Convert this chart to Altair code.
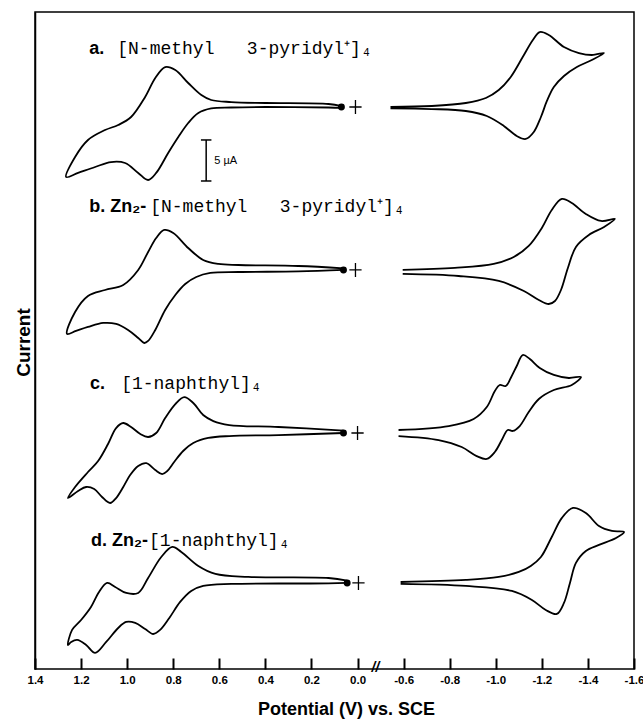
import altair as alt
import pandas as pd

# ---------------- data ----------------
traces = ["a", "b", "c", "d"]
# vertical offset (µA on the display scale) of each voltammogram's zero-current line
offset_uA = [69.04, 49.02, 28.99, 10.57]

# broken potential axis: the part from -0.6 V on is drawn 0.4 V to the left
BREAK_SHIFT = 0.4

# --- trace a : oxidation side (V, µA) ---
a_ox_V = [0.07, 0.126, 0.40, 0.548, 0.635, 0.691, 0.735, 0.778, 0.822, 0.874, 0.909, 0.952, 1.009, 1.070,
          1.139, 1.213, 1.265, 1.226, 1.170, 1.096, 1.039, 0.983, 0.922, 0.878, 0.835, 0.791, 0.735, 0.678,
          0.635, 0.548, 0.40, 0.126, 0.07]
a_ox_I = [-0.1, -0.06, 0.0, -0.06, -0.18, -0.74, -1.97, -3.69, -5.65, -8.1, -8.97, -8.1, -6.88, -6.76,
          -7.37, -8.1, -8.6, -6.14, -4.05, -2.83, -2.21, -1.23, 1.23, 3.56, 4.91, 4.55, 2.95, 1.47,
          0.86, 0.61, 0.49, 0.37, 0.1]
# --- trace a : reduction side ---
a_red_V = [-0.543, -0.722, -0.870, -0.957, -1.013, -1.065, -1.117, -1.161, -1.191, -1.230, -1.296, -1.361,
           -1.417, -1.470, -1.417, -1.352, -1.296, -1.252, -1.222, -1.196, -1.165, -1.130, -1.091, -1.035,
           -0.961, -0.870, -0.722, -0.543]
a_red_I = [0.0, 0.12, 0.49, 1.11, 2.09, 3.69, 6.14, 8.23, 9.21, 8.85, 7.37, 6.63, 6.39, 6.63, 5.77, 4.91,
           3.81, 2.46, 0.74, -1.23, -3.07, -3.93, -3.56, -2.33, -1.11, -0.49, -0.25, -0.18]

# --- trace b ---
b_ox_V = [0.061, 0.257, 0.517, 0.639, 0.70, 0.748, 0.791, 0.835, 0.878, 0.909, 0.926, 0.952, 0.996, 1.048,
          1.104, 1.170, 1.222, 1.261, 1.226, 1.170, 1.096, 1.017, 0.952, 0.909, 0.874, 0.839, 0.80, 0.735,
          0.670, 0.604, 0.517, 0.257, 0.061]
b_ox_I = [0.0, -0.18, -0.25, -0.37, -0.86, -1.72, -3.07, -4.91, -7.37, -8.72, -8.97, -8.35, -7.37, -6.63,
          -6.51, -7.0, -7.49, -7.86, -5.16, -3.19, -2.46, -1.84, 0.0, 2.21, 3.93, 4.91, 4.55, 2.70,
          1.23, 0.74, 0.61, 0.49, 0.2]
b_red_V = [-0.596, -0.822, -0.991, -1.078, -1.143, -1.2, -1.243, -1.287, -1.330, -1.391, -1.457, -1.517,
           -1.470, -1.404, -1.348, -1.313, -1.283, -1.257, -1.230, -1.187, -1.122, -1.013, -0.839, -0.596]
b_red_I = [0.0, 0.25, 0.74, 1.6, 2.95, 5.16, 7.37, 8.72, 8.23, 6.88, 6.02, 6.27,
           5.28, 4.30, 2.83, 0.25, -2.46, -3.81, -4.18, -3.69, -2.58, -1.35, -0.74, -0.49]

# --- trace c ---
c_ox_V = [0.061, 0.343, 0.557, 0.648, 0.713, 0.757, 0.796, 0.826, 0.848, 0.878, 0.917, 0.952, 0.987, 1.017,
          1.048, 1.074, 1.109, 1.143, 1.178, 1.213, 1.257, 1.226, 1.170, 1.126, 1.083, 1.048, 1.017, 0.983,
          0.943, 0.909, 0.874, 0.835, 0.791, 0.752, 0.713, 0.670, 0.626, 0.557, 0.343, 0.061]
c_ox_I = [0.0, -0.25, -0.37, -0.61, -1.23, -2.21, -3.56, -4.67, -5.04, -4.55, -3.7, -4.05, -5.16, -6.63,
          -7.99, -8.6, -7.86, -6.88, -6.63, -7.13, -7.99, -6.63, -4.79, -3.44, -1.35, 0.61, 1.23, 0.74,
          -0.12, -0.49, 0.0, 1.84, 3.56, 4.42, 3.69, 2.21, 1.47, 0.98, 0.74, 0.3]
c_red_V = [-0.578, -0.796, -0.904, -0.961, -0.996, -1.017, -1.043, -1.065, -1.091, -1.117, -1.148, -1.191,
           -1.252, -1.317, -1.370, -1.330, -1.252, -1.187, -1.143, -1.104, -1.074, -1.052, -1.026, -0.996,
           -0.961, -0.917, -0.852, -0.752, -0.578]
c_red_I = [0.37, 0.86, 1.72, 3.19, 5.16, 5.9, 5.77, 6.76, 8.23, 9.58, 9.09, 7.99, 7.13, 6.76, 6.88,
           5.9, 5.28, 4.18, 2.58, 0.86, 0.25, 0.37, -0.86, -2.33, -3.19, -2.83, -1.72, -0.86, -0.37]

# --- trace d ---
d_ox_V = [0.045, 0.126, 0.548, 0.670, 0.722, 0.770, 0.817, 0.857, 0.887, 0.922, 0.965, 1.004, 1.039, 1.091,
          1.139, 1.178, 1.217, 1.243, 1.257, 1.239, 1.2, 1.157, 1.122, 1.087, 1.052, 1.004, 0.952, 0.909,
          0.852, 0.804, 0.765, 0.691, 0.617, 0.474, 0.126, 0.045]
d_ox_I = [0.0, -0.06, -0.12, -0.37, -0.98, -2.33, -4.3, -5.77, -6.27, -5.65, -4.91, -4.79, -5.53, -7.25,
          -8.6, -7.62, -7.0, -7.25, -7.62, -5.77, -4.55, -2.95, -1.11, 0.0, -0.49, -1.23, -1.23, 0.61,
          3.19, 4.42, 3.81, 2.09, 1.11, 0.74, 0.61, 0.3]
d_red_V = [-0.587, -0.870, -1.013, -1.1, -1.152, -1.196, -1.243, -1.287, -1.335, -1.391, -1.448, -1.504,
           -1.557, -1.522, -1.448, -1.391, -1.348, -1.322, -1.296, -1.265, -1.217, -1.157, -1.070, -0.870,
           -0.587]
d_red_I = [0.12, 0.37, 0.74, 1.35, 2.09, 3.19, 5.65, 7.99, 9.21, 8.6, 7.0, 6.39, 6.27,
           5.53, 4.67, 3.93, 2.46, 0.0, -2.46, -3.81, -3.32, -2.09, -0.98, -0.37, -0.12]

# start point (filled dot) and "+" marker potentials (V)
dot_V = [0.07, 0.061, 0.061, 0.045]
cross_V = [0.009, 0.009, 0.0, -0.004]

# trace labels
label_prefix = ["a.", "b. Zn\u2082-", "c.", "d. Zn\u2082-"]
label_formula = ["[N-methyl\u00a0\u00a0\u00a03-pyridyl\u207a]\u2084",
                 "[N-methyl\u00a0\u00a0\u00a03-pyridyl\u207a]\u2084",
                 "[1-naphthyl]\u2084",
                 "[1-naphthyl]\u2084"]
label_prefix_V = [1.165, 1.165, 1.161, 1.157]
label_formula_V = [1.043, 0.90, 1.026, 0.905]
label_y = [75.55, 56.14, 34.40, 15.11]

# 5 µA scale bar
bar_V = 0.657
bar_y = [59.95, 64.99]
bar_text = "5 \u00b5A"
bar_text_V = 0.622
bar_text_y = 62.4

# axis tick labels (V)
tick_V_left = [1.4, 1.2, 1.0, 0.8, 0.6, 0.4, 0.2, 0.0]
tick_V_right = [-0.6, -0.8, -1.0, -1.2, -1.4, -1.6]
break_V = -0.078  # position of the "//" break mark (display axis units)

# ---------------- build tables ----------------
series = {
    "a": [(a_ox_V, a_ox_I, "ox"), (a_red_V, a_red_I, "red")],
    "b": [(b_ox_V, b_ox_I, "ox"), (b_red_V, b_red_I, "red")],
    "c": [(c_ox_V, c_ox_I, "ox"), (c_red_V, c_red_I, "red")],
    "d": [(d_ox_V, d_ox_I, "ox"), (d_red_V, d_red_I, "red")],
}
W, H = 599, 657
Y_TOP = 80.71
TICK_PX = 11

rows = []
for t, off in zip(traces, offset_uA):
    for V, I, side in series[t]:
        shift = 0.0 if side == "ox" else BREAK_SHIFT
        for i, (v, c) in enumerate(zip(V, I)):
            rows.append({"seg": f"{t}-{side}", "i": i, "p": v + shift, "y": off + c})
curves = pd.DataFrame(rows)

tick_p = tick_V_left + [round(v + BREAK_SHIFT, 3) for v in tick_V_right]

dots = pd.DataFrame({"p": dot_V, "y": offset_uA})
crosses = pd.DataFrame({"p": cross_V, "y": offset_uA})
labels = pd.DataFrame({"prefix": label_prefix, "formula": label_formula,
                       "pp": label_prefix_V, "pf": label_formula_V, "y": label_y})
bar = pd.DataFrame({"p": [bar_V], "y": [bar_y[0]], "y2": [bar_y[1]]})
bar_caps = pd.DataFrame({"p": [bar_V, bar_V], "y": bar_y})
bar_lbl = pd.DataFrame({"p": [bar_text_V], "y": [bar_text_y], "t": [bar_text]})
brk = pd.DataFrame({"p": [break_V], "t": ["//"]})

# ---------------- encodings ----------------
xscale = alt.Scale(domain=[-1.2, 1.4], reverse=True, nice=False, zero=False)
yscale = alt.Scale(domain=[0, Y_TOP], nice=False, zero=False)

# The axis is lifted 11 px into the plot so that its ticks point up from the bottom frame (inward ticks);
# the frame's bottom edge is the axis line.
xaxis = alt.Axis(
    values=tick_p,
    labelExpr="datum.value > -0.1 ? format(datum.value, '.1f') : '-' + format(" + str(BREAK_SHIFT) + " - datum.value, '.1f')",
    offset=-TICK_PX, ticks=True, tickSize=TICK_PX, tickWidth=2, tickColor="black", tickOpacity=1,
    grid=False, domain=False,
    labelFont="Liberation Sans", labelFontSize=11.5, labelFontWeight="bold", labelColor="black",
    labelPadding=5, labelFlush=False, labelOverlap=False,
    title="Potential (V) vs. SCE", titleFont="Liberation Sans", titleFontSize=18,
    titleFontWeight="bold", titleColor="black", titleX=311, titleY=45 + TICK_PX,
    titleBaseline="alphabetic", titleAnchor="middle", titleAlign="center",
)
yaxis = alt.Axis(
    ticks=False, labels=False, grid=False, domain=True, domainColor="black", domainWidth=1.5,
    title="Current", titleFont="Liberation Sans", titleFontSize=19, titleFontWeight="bold",
    titleColor="black", titleX=-12, titleY=330, titleAngle=270,
    titleAlign="center", titleBaseline="middle",
)


def X(field="p"):
    return alt.X(f"{field}:Q", scale=xscale, axis=xaxis)


def Y(field="y"):
    return alt.Y(f"{field}:Q", scale=yscale, axis=yaxis)


lines = alt.Chart(curves).mark_line(color="black", strokeWidth=1.8, interpolate="catmull-rom").encode(
    x=X(), y=Y(), detail="seg:N", order=alt.Order("i:Q"))

dot_layer = alt.Chart(dots).mark_circle(size=48, color="black", opacity=1).encode(x=X(), y=Y())
cross_layer = alt.Chart(crosses).mark_point(
    shape="M-1,0L1,0M0,-1.15L0,1.15", size=150, filled=False, color="black", strokeWidth=1.3, opacity=1
).encode(x=X(), y=Y())

prefix_layer = alt.Chart(labels).mark_text(
    align="left", baseline="alphabetic", font="Liberation Sans", fontWeight="bold", fontSize=18, color="black"
).encode(x=X("pp"), y=Y(), text="prefix:N")
formula_layer = alt.Chart(labels).mark_text(
    align="left", baseline="alphabetic", font="Liberation Mono", fontSize=18, color="black"
).encode(x=X("pf"), y=Y(), text="formula:N")

bar_layer = alt.Chart(bar).mark_rule(color="black", strokeWidth=1.5).encode(x=X(), y=Y(), y2="y2:Q")
cap_layer = alt.Chart(bar_caps).mark_point(
    shape="M-1,0L1,0", size=110, filled=False, color="black", strokeWidth=1.5, opacity=1
).encode(x=X(), y=Y())
bar_text_layer = alt.Chart(bar_lbl).mark_text(
    align="left", baseline="middle", font="Liberation Sans", fontSize=11, color="black"
).encode(x=X(), y=Y(), text="t:N")

break_layer = alt.Chart(brk).mark_text(
    align="center", baseline="middle", font="Liberation Sans", fontSize=14, fontWeight="bold",
    fontStyle="italic", color="black"
).encode(x=X(), y=alt.value(H - 1), text="t:N")

chart = alt.layer(
    lines, dot_layer, cross_layer, prefix_layer, formula_layer,
    bar_layer, cap_layer, bar_text_layer, break_layer,
).properties(
    width=W, height=H,
    padding={"left": 35, "top": 12, "right": 9, "bottom": 50},
    autosize=alt.AutoSizeParams(type="none"),
    background="white",
).configure_view(stroke="black", strokeWidth=1.5)

chart.save("out.html", embed_options={"renderer": "svg", "actions": False})
